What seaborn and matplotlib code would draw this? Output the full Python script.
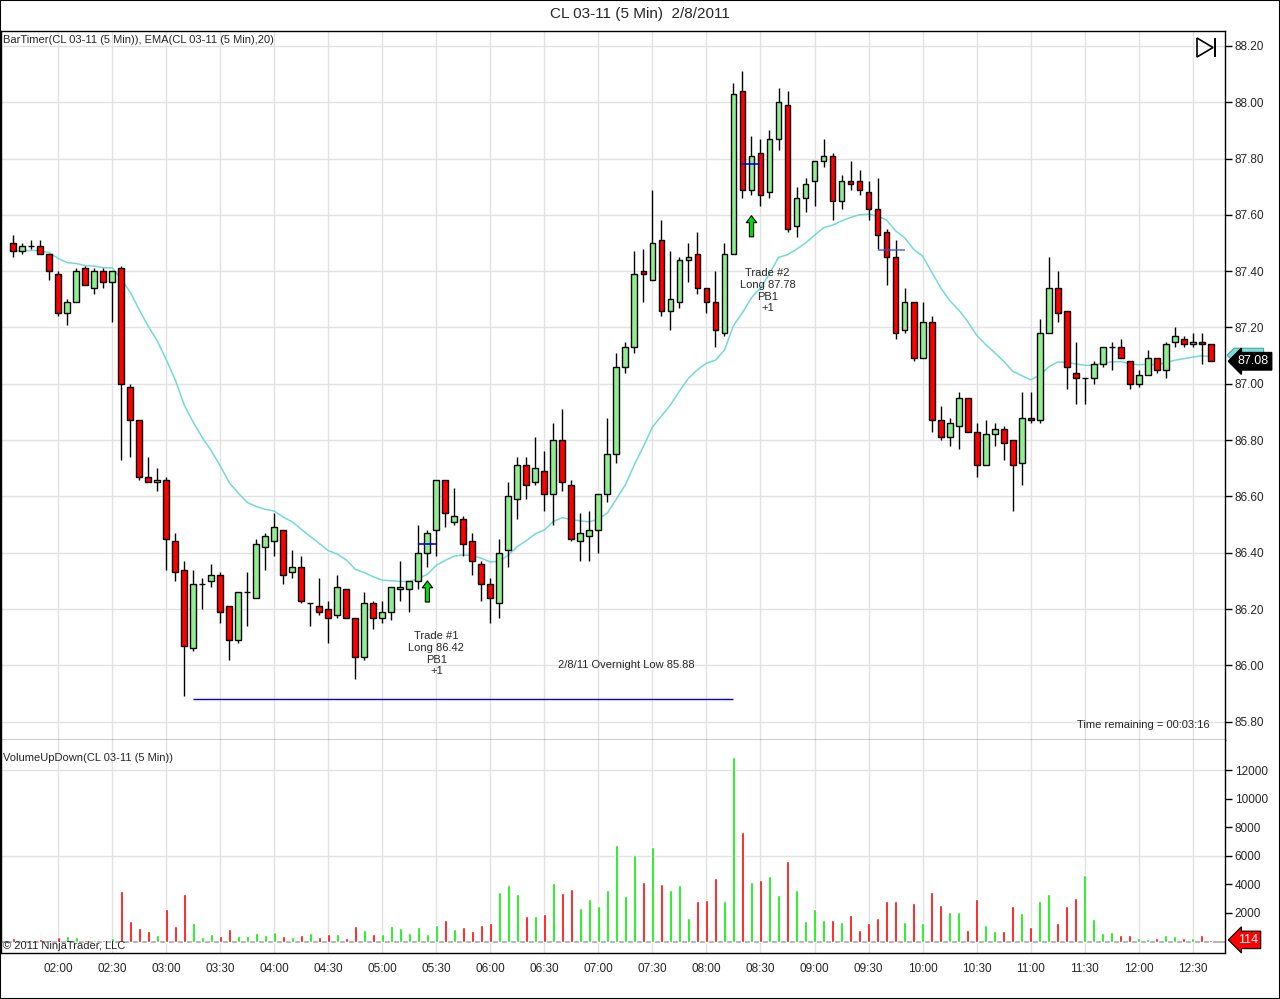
import numpy as np
import pandas as pd
import matplotlib
matplotlib.use("Agg")
import matplotlib.pyplot as plt
from matplotlib.patches import Polygon, Rectangle
from matplotlib.transforms import blended_transform_factory
import seaborn as sns

# 5 minute bars of CL 03-11, first bar 01:35
first_bar = "01:35"
opens = [87.50, 87.47, 87.49, 87.49, 87.46, 87.39, 87.25, 87.29, 87.41, 87.34,
         87.40, 87.36, 87.41, 86.99, 86.87, 86.67, 86.65, 86.66, 86.44, 86.34,
         86.06, 86.29, 86.30, 86.32, 86.21, 86.09, 86.26, 86.24, 86.42, 86.44,
         86.48, 86.33, 86.35, 86.22, 86.21, 86.20, 86.18, 86.27, 86.17, 86.03,
         86.22, 86.17, 86.19, 86.27, 86.27, 86.30, 86.40, 86.48, 86.66, 86.51,
         86.52, 86.44, 86.36, 86.29, 86.22, 86.41, 86.59, 86.71, 86.65, 86.69,
         86.61, 86.80, 86.64, 86.44, 86.46, 86.48, 86.61, 86.75, 87.06, 87.13,
         87.40, 87.37, 87.51, 87.26, 87.29, 87.44, 87.46, 87.34, 87.29, 87.18,
         87.46, 88.04, 87.69, 87.82, 87.68, 87.87, 87.99, 87.56, 87.66, 87.72,
         87.79, 87.81, 87.65, 87.72, 87.72, 87.68, 87.62, 87.54, 87.45, 87.19,
         87.29, 87.09, 87.22, 86.87, 86.81, 86.85, 86.95, 86.83, 86.71, 86.82,
         86.84, 86.80, 86.72, 86.88, 86.87, 87.18, 87.34, 87.26, 87.04, 87.02,
         87.02, 87.07, 87.13, 87.13, 87.08, 87.00, 87.03, 87.09, 87.05, 87.15,
         87.16, 87.14, 87.15, 87.14]
highs = [87.53, 87.50, 87.51, 87.51, 87.46, 87.40, 87.30, 87.41, 87.42, 87.41,
         87.41, 87.40, 87.42, 87.00, 86.87, 86.74, 86.70, 86.67, 86.47, 86.37,
         86.34, 86.31, 86.36, 86.33, 86.21, 86.26, 86.33, 86.45, 86.47, 86.54,
         86.48, 86.41, 86.39, 86.22, 86.31, 86.23, 86.32, 86.27, 86.17, 86.26,
         86.23, 86.23, 86.28, 86.37, 86.30, 86.50, 86.48, 86.66, 86.66, 86.63,
         86.53, 86.47, 86.37, 86.31, 86.45, 86.65, 86.74, 86.74, 86.81, 86.76,
         86.86, 86.91, 86.66, 86.54, 86.55, 86.61, 86.88, 87.11, 87.15, 87.47,
         87.48, 87.69, 87.58, 87.47, 87.45, 87.50, 87.54, 87.34, 87.40, 87.50,
         88.07, 88.11, 87.88, 87.87, 87.90, 88.05, 88.04, 87.70, 87.73, 87.79,
         87.87, 87.82, 87.74, 87.79, 87.76, 87.72, 87.73, 87.55, 87.51, 87.34,
         87.29, 87.29, 87.24, 86.92, 86.88, 86.97, 86.95, 86.86, 86.87, 86.86,
         86.85, 86.80, 86.97, 86.97, 87.23, 87.45, 87.40, 87.26, 87.15, 87.02,
         87.08, 87.13, 87.15, 87.16, 87.08, 87.05, 87.12, 87.09, 87.15, 87.20,
         87.17, 87.18, 87.18, 87.14]
lows = [87.45, 87.46, 87.48, 87.46, 87.37, 87.24, 87.21, 87.29, 87.35, 87.32,
        87.34, 87.22, 86.73, 86.74, 86.66, 86.65, 86.62, 86.34, 86.30, 85.89,
        86.05, 86.20, 86.28, 86.15, 86.02, 86.08, 86.14, 86.24, 86.34, 86.39,
        86.29, 86.31, 86.22, 86.14, 86.18, 86.08, 86.17, 86.17, 85.95, 86.02,
        86.13, 86.15, 86.16, 86.23, 86.19, 86.27, 86.35, 86.39, 86.49, 86.50,
        86.39, 86.32, 86.23, 86.15, 86.17, 86.35, 86.52, 86.59, 86.64, 86.55,
        86.50, 86.62, 86.44, 86.37, 86.37, 86.40, 86.58, 86.72, 87.04, 87.11,
        87.29, 87.37, 87.24, 87.19, 87.27, 87.36, 87.32, 87.25, 87.13, 87.17,
        87.46, 87.66, 87.67, 87.63, 87.66, 87.83, 87.54, 87.52, 87.61, 87.63,
        87.77, 87.58, 87.62, 87.69, 87.67, 87.58, 87.48, 87.35, 87.16, 87.18,
        87.08, 87.09, 86.83, 86.80, 86.78, 86.77, 86.83, 86.67, 86.71, 86.78,
        86.73, 86.55, 86.64, 86.86, 86.86, 87.18, 87.22, 86.98, 86.93, 86.93,
        87.00, 87.06, 87.05, 87.09, 86.98, 86.99, 87.03, 87.04, 87.02, 87.13,
        87.13, 87.13, 87.07, 87.08]
closes = [87.47, 87.49, 87.49, 87.46, 87.40, 87.25, 87.29, 87.40, 87.35, 87.40,
          87.36, 87.40, 87.00, 86.87, 86.67, 86.65, 86.66, 86.45, 86.33, 86.07,
          86.29, 86.29, 86.32, 86.19, 86.09, 86.26, 86.26, 86.43, 86.46, 86.49,
          86.32, 86.35, 86.23, 86.22, 86.19, 86.17, 86.28, 86.17, 86.03, 86.22,
          86.17, 86.19, 86.28, 86.28, 86.30, 86.40, 86.47, 86.66, 86.54, 86.53,
          86.43, 86.37, 86.29, 86.24, 86.40, 86.60, 86.71, 86.64, 86.70, 86.61,
          86.80, 86.65, 86.45, 86.47, 86.48, 86.61, 86.75, 87.06, 87.13, 87.39,
          87.39, 87.50, 87.26, 87.30, 87.44, 87.45, 87.34, 87.29, 87.19, 87.46,
          88.03, 87.69, 87.81, 87.67, 87.87, 88.00, 87.55, 87.66, 87.71, 87.79,
          87.81, 87.65, 87.72, 87.71, 87.69, 87.62, 87.53, 87.45, 87.18, 87.29,
          87.09, 87.22, 86.87, 86.81, 86.86, 86.95, 86.83, 86.71, 86.82, 86.84,
          86.79, 86.71, 86.88, 86.87, 87.18, 87.34, 87.25, 87.06, 87.02, 87.02,
          87.07, 87.13, 87.13, 87.09, 87.00, 87.03, 87.09, 87.05, 87.14, 87.17,
          87.14, 87.15, 87.14, 87.08]
volumes = [250, 100, 100, 180, 100, 320, 380, 320, 100, 100,
           100, 250, 3540, 1440, 950, 740, 460, 2280, 1090, 3330,
           1300, 320, 530, 380, 880, 380, 380, 600, 460, 670,
           380, 320, 460, 600, 320, 530, 530, 250, 1090, 810,
           530, 530, 1090, 950, 600, 1000, 530, 1160, 1510, 880,
           1000, 740, 1160, 1300, 3470, 3960, 3330, 1790, 1790, 1930,
           4100, 3400, 3680, 2350, 2980, 2490, 3610, 6770, 3190, 6070,
           4170, 6630, 4030, 3610, 3960, 1650, 2840, 2910, 4450, 2840,
           12940, 7680, 4170, 4310, 4590, 3260, 5650, 3610, 1440, 2280,
           1510, 1510, 1370, 1860, 800, 1300, 1650, 2840, 2840, 1370,
           2700, 1300, 3470, 2560, 2070, 2070, 810, 2980, 1160, 740,
           740, 2490, 2000, 1020, 2840, 3330, 1300, 2490, 3050, 4660,
           1580, 600, 670, 460, 460, 250, 180, 250, 460, 380,
           250, 250, 460, 114]
time_labels = ["02:00", "02:30", "03:00", "03:30", "04:00", "04:30", "05:00",
               "05:30", "06:00", "06:30", "07:00", "07:30", "08:00", "08:30",
               "09:00", "09:30", "10:00", "10:30", "11:00", "11:30", "12:00",
               "12:30"]
price_ticks = [85.80, 86.00, 86.20, 86.40, 86.60, 86.80, 87.00, 87.20, 87.40,
               87.60, 87.80, 88.00, 88.20]
volume_ticks = [2000, 4000, 6000, 8000, 10000, 12000]
overnight_low = 85.88
trade1_entry = 86.42
trade2_entry = 87.78
last_price = 87.08

df = pd.DataFrame({"open": opens, "high": highs, "low": lows,
                   "close": closes, "volume": volumes})
df["bar"] = np.arange(len(df))
df["up"] = df["close"] >= df["open"]
df["ema"] = df["close"].ewm(span=20, adjust=False).mean()


def bar_of(hhmm):
    h, m = map(int, hhmm.split(":"))
    h0, m0 = map(int, first_bar.split(":"))
    return ((h * 60 + m) - (h0 * 60 + m0)) / 5


tick_pos = [bar_of(t) for t in time_labels]

sns.set_style("white")
plt.rcParams["font.family"] = ["Liberation Sans", "DejaVu Sans"]

W, H = 1280, 999
fig = plt.figure(figsize=(W / 100, H / 100), dpi=100)


def box(l, t, r, b):
    return [l / W, 1 - b / H, (r - l) / W, (b - t) / H]


ax = fig.add_axes(box(1, 31, 1225, 740))
axv = fig.add_axes(box(1, 740, 1225, 953), sharex=ax)

grid_c = "#e2e2e2"
# price panel
for t in tick_pos:
    ax.axvline(t, color=grid_c, lw=1, zorder=0)
    axv.axvline(t, color=grid_c, lw=1, zorder=0)
for p in price_ticks:
    ax.axhline(p, color=grid_c, lw=1, zorder=0)

sns.lineplot(data=df, x="bar", y="ema", ax=ax, color="#72d9d9", lw=1.1, zorder=2)

body_colors = np.where(df["up"], "#90ee90", "#ff0000")
ax.vlines(df["bar"], df["low"], df["high"], color="black", lw=1.0, zorder=3)
ax.bar(df["bar"], (df["close"] - df["open"]).abs(),
       bottom=np.minimum(df["open"], df["close"]), width=0.66,
       color=body_colors, edgecolor="black", linewidth=1.0, zorder=4)

# overnight low and trade marks
ax.hlines(overnight_low, 20, 80, color="blue", lw=1, zorder=5)
ax.text(68.1, 86.0, "2/8/11 Overnight Low 85.88", ha="center", va="center",
        fontsize=8)
ax.hlines(trade1_entry + 0.01, 45, 47, color="blue", lw=1.2, zorder=5)
ax.hlines(trade2_entry, 81, 83, color="blue", lw=1.2, zorder=5)
ax.hlines(87.475, 96, 99, color="#3050ff", lw=1.2, zorder=5, alpha=0.8)
arrow = dict(arrowstyle="simple,head_length=0.5,head_width=0.75,tail_width=0.3",
             fc="#00dd00", ec="black", lw=0.8, shrinkA=0, shrinkB=0)
ax.annotate("", xy=(46, 86.30), xytext=(46, 86.225), arrowprops=arrow, zorder=6)
ax.annotate("", xy=(82, 87.597), xytext=(82, 87.522), arrowprops=arrow, zorder=6)
ax.text(47, 86.041, "Trade #1\nLong 86.42\nPB1\n+1", ha="center", va="center",
        fontsize=8, linespacing=1.2)
ax.text(83.8, 87.33, "Trade #2\nLong 87.78\nPB1\n+1", ha="center", va="center",
        fontsize=8, linespacing=1.2)

ax.text(0.002, (740 - 40) / 709, "BarTimer(CL 03-11 (5 Min)), EMA(CL 03-11 (5 Min),20)",
        transform=ax.transAxes, fontsize=8, va="center")
ax.text((1210 - 1) / 1224, (740 - 725) / 709, "Time remaining = 00:03:16",
        transform=ax.transAxes, fontsize=8, va="center", ha="right")

ax.set_xlim(-1.37, 134.6)
ax.set_ylim(85.735, 88.253)
ax.set_yticks(price_ticks)
ax.set_yticklabels([f"{p:.2f}" for p in price_ticks])
ax.yaxis.tick_right()
ax.tick_params(axis="y", direction="out", length=5, width=1, color="black",
               labelsize=8.5, pad=2)
ax.tick_params(axis="x", bottom=False, labelbottom=False)

# EMA tag, mostly hidden behind the last price tag
trans = blended_transform_factory(ax.transAxes, ax.transData)
c, h = df["ema"].iloc[-1] + 0.004, 0.025
ax.add_patch(Polygon([(1.0016, c), (1.0075, c + h), (1.0315, c + h),
                      (1.0315, c - h), (1.0075, c - h)], closed=True,
                     fc="#7fdcdc", ec="#4aa8a8", lw=0.8, transform=trans,
                     clip_on=False, zorder=7))
ax.text(1.0105, last_price, "87.08", transform=trans, ha="left", va="center",
        fontsize=9, color="white", zorder=8, clip_on=False,
        bbox=dict(boxstyle="larrow,pad=0.22", fc="black", ec="black"))

# volume panel
vol_colors = np.where(df["up"], "#00ee00", "#ff0000")
axv.bar(df["bar"], df["volume"], width=0.3, color=vol_colors, zorder=3)
for v in (6000, 12000):
    axv.axhline(v, color=grid_c, lw=1, zorder=0)
axv.axhline(0, color="#a8a8a8", lw=1.2, zorder=2)
axv.set_ylim(-806, 14131)
axv.set_yticks(volume_ticks)
axv.set_yticklabels([str(v) for v in volume_ticks])
axv.yaxis.tick_right()
axv.set_xticks(tick_pos)
axv.set_xticklabels(time_labels)
axv.tick_params(axis="y", direction="out", length=5, width=1, color="black",
                labelsize=8.5, pad=2)
axv.tick_params(axis="x", direction="out", length=4, width=1, color="black",
                labelsize=8.5, pad=3)
axv.text(0.002, (953 - 758) / 213, "VolumeUpDown(CL 03-11 (5 Min))",
         transform=axv.transAxes, fontsize=8, va="center")
axv.text(0.002, (953 - 946) / 213, "\u00a9 2011 NinjaTrader, LLC",
         transform=axv.transAxes, fontsize=8, va="center")
transv = blended_transform_factory(axv.transAxes, axv.transData)
axv.text(1.0105, volumes[-1], "114", transform=transv, ha="left", va="center",
         fontsize=9, color="white", zorder=8, clip_on=False,
         bbox=dict(boxstyle="larrow,pad=0.22", fc="#ff0000", ec="black", lw=0.8))

for a in (ax, axv):
    for s in a.spines.values():
        s.set_color("black")
        s.set_linewidth(1)
    a.set_xlabel("")
    a.set_ylabel("")
axv.spines["top"].set_visible(False)

fig.text(0.5, 1 - 14 / H, "CL 03-11 (5 Min)  2/8/2011", ha="center",
         va="center", fontsize=11)

# playback icon
fig.patches.append(Polygon([(1197 / W, 1 - 38 / H), (1197 / W, 1 - 57 / H),
                            (1213 / W, 1 - 47.5 / H)], closed=True, fill=False,
                           ec="black", lw=1.2, transform=fig.transFigure))
fig.patches.append(Rectangle((1214 / W, 1 - 57 / H), 2 / W, 19 / H, fc="black",
                             ec="none", transform=fig.transFigure))
fig.patches.append(Rectangle((0, 0), 1, 1, fill=False, ec="black", lw=1.5,
                             transform=fig.transFigure))

fig.savefig("out.png", dpi=100)
